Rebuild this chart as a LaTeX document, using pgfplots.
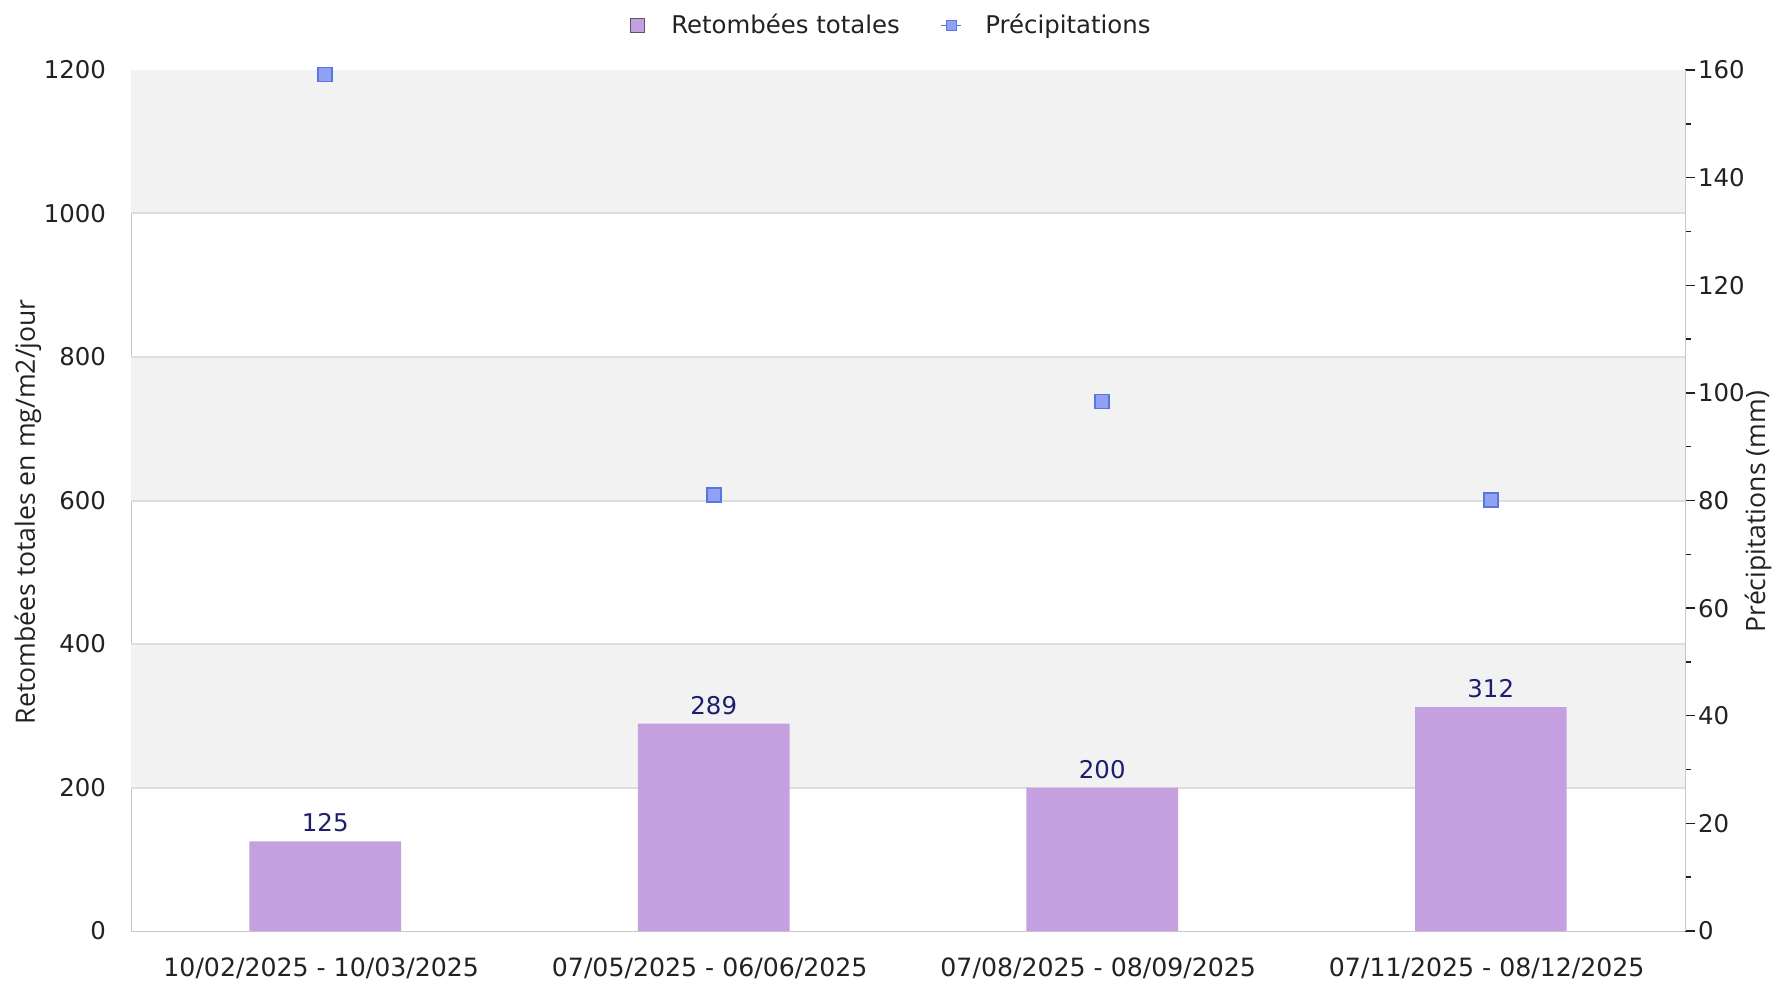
\documentclass[border=0pt]{standalone}
\usepackage{fontspec}
\setmainfont{DejaVu Sans}
\newfontfamily\labelfont{Open Sans}
\usepackage{pgfplots}
\pgfplotsset{compat=1.18}
\definecolor{barpurple}{HTML}{C4A0E0}
\definecolor{navy}{HTML}{1E1E6E}
\definecolor{mkfill}{HTML}{8FA3F2}
\definecolor{mkdraw}{HTML}{5A75E0}
\definecolor{band}{HTML}{F2F2F2}
\definecolor{gridc}{HTML}{DEDEDE}
\definecolor{axisc}{HTML}{C8C8C8}
\definecolor{txt}{HTML}{222222}
\pgfplotsset{
  precip legend/.style={legend image code/.code={%
    \draw[##1] (-5pt,0pt) -- (5pt,0pt);
    \draw[##1] plot coordinates {(0pt,0pt)};
    \path[draw=none, fill=none] (-5pt,0pt) -- (15pt,0pt);}},
  bar legend/.style={legend image code/.code={%
    \draw[##1] (-3.5pt,-3.5pt) rectangle (3.5pt,3.5pt);
    \path[draw=none, fill=none] (-5pt,0pt) -- (15pt,0pt);}}
}
\begin{document}
\begin{tikzpicture}
\path[use as bounding box] (0,0) rectangle (886.5pt,490.5pt);
\begin{axis}[
  at={(65.5pt,25pt)}, anchor=south west,
  scale only axis, width=777pt, height=430.5pt,
  xmin=-0.5, xmax=3.5, ymin=0, ymax=1200,
  xtick={0,1,2,3},
  xticklabels={10/02/2025 - 10/03/2025,07/05/2025 - 06/06/2025,07/08/2025 - 08/09/2025,07/11/2025 - 08/12/2025},
  ytick={0,200,...,1200},
  ytick pos=left, xtick pos=bottom,
  major tick length=0pt,
  axis line style={draw=axisc},
  /pgf/number format/assume math mode=true,
  /pgf/number format/1000 sep={},
  tick label style={font=\fontsize{12.2}{14}\selectfont, text=txt},
  yticklabel style={xshift=-9pt},
  xticklabel style={yshift=-10pt, xshift=-2pt, font=\fontsize{12.6}{14}\selectfont},
  ylabel={Retombées totales en mg/m2/jour},
  ylabel style={at={(axis description cs:-0.0663,0.487)}, anchor=center, font=\labelfont\fontsize{13.3}{15}\selectfont, text=txt},
  ybar, bar width=0.39,
  nodes near coords,
  every node near coord/.append style={font=\fontsize{12.2}{14}\selectfont, text=navy, yshift=1pt},
  clip=false,
]
\fill[band] (axis cs:-0.5,1000) rectangle (axis cs:3.5,1200);
\fill[band] (axis cs:-0.5,600) rectangle (axis cs:3.5,800);
\fill[band] (axis cs:-0.5,200) rectangle (axis cs:3.5,400);
\pgfplotsinvokeforeach{200,400,600,800,1000}{
  \draw[gridc, line width=1pt] (axis cs:-0.5,#1) -- (axis cs:3.5,#1);
}
\addplot[fill=barpurple, draw=none] coordinates {(0,125) (1,289) (2,200) (3,312)};
\end{axis}
\begin{axis}[
  at={(65.5pt,25pt)}, anchor=south west,
  scale only axis, width=777pt, height=430.5pt,
  xmin=-0.5, xmax=3.5, ymin=0, ymax=160,
  axis x line=none,
  axis y line*=right,
  axis line style={draw=axisc},
  ytick={0,20,...,160},
  minor ytick={10,30,...,150},
  tick align=outside,
  major tick length=5pt, minor tick length=3pt,
  ytick style={draw=txt, line width=0.7pt},
  minor tick style={draw=txt, line width=0.7pt},
  /pgf/number format/assume math mode=true,
  tick label style={font=\fontsize{12.2}{14}\selectfont, text=txt},
  yticklabel style={xshift=-2pt},
  ylabel={Précipitations (mm)},
  ylabel style={at={(axis description cs:1.047,0.487)}, anchor=center, rotate=0, font=\labelfont\fontsize{13.3}{15}\selectfont, text=txt},
  legend columns=2,
  legend style={draw=none, fill=none, at={(0.489,1.052)}, anchor=center,
    font=\fontsize{12.2}{14}\selectfont, text=txt,
    /tikz/every even column/.append style={column sep=18.5pt}},
  clip=false,
]
\addlegendimage{fill=barpurple, draw=gray!70!black, line width=0.6pt, bar legend}
\addlegendentry{Retombées totales}
\addlegendimage{mkdraw, mark=square*, mark size=2.6pt, mark options={fill=mkfill, draw=mkdraw}, precip legend}
\addlegendentry{Précipitations}
\addplot[only marks, mark=square*, mark size=3.5pt, mark options={fill=mkfill, draw=mkdraw, line width=0.8pt}, forget plot]
  coordinates {(0,159.2) (1,81) (2,98.4) (3,80.1)};
\end{axis}
\end{tikzpicture}
\end{document}
